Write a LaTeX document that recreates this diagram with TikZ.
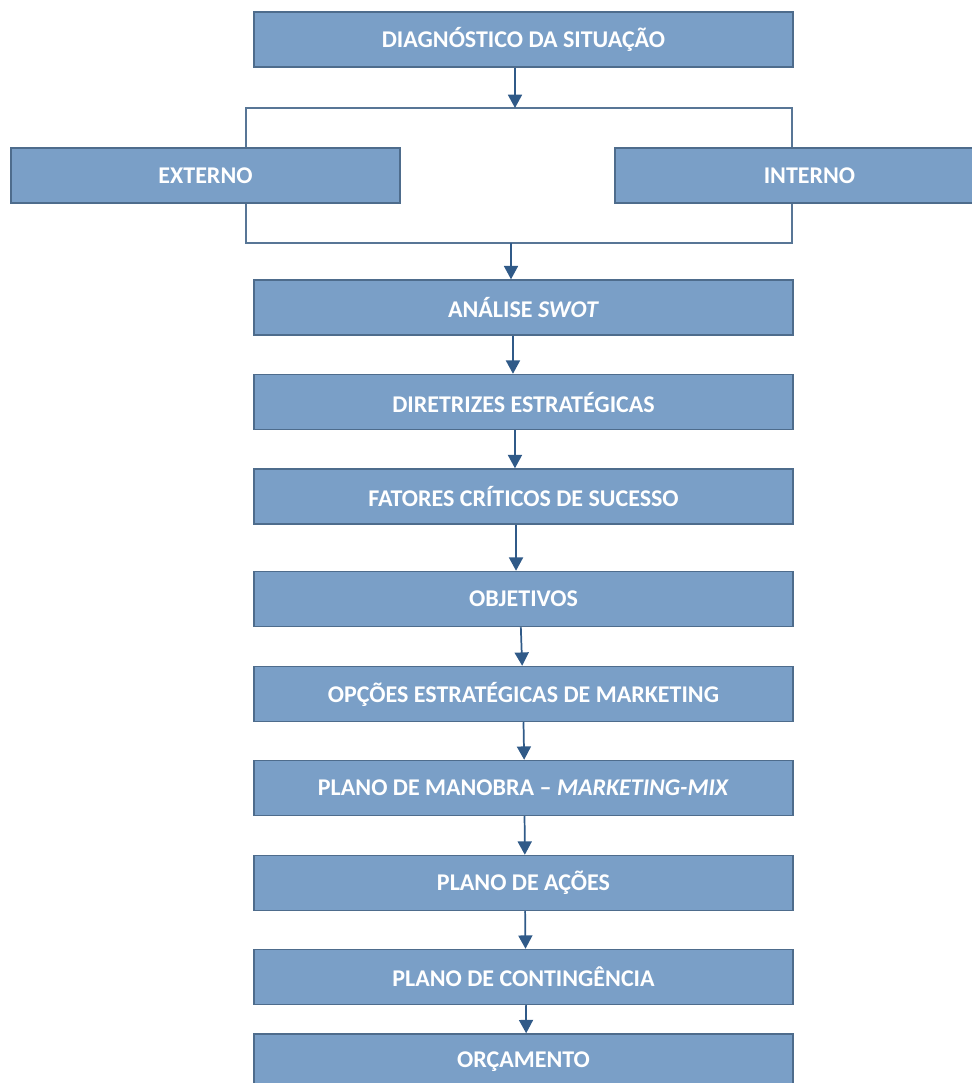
\documentclass[tikz,border=0pt]{standalone}
\usepackage{fontspec}
\setmainfont{Carlito}
\usetikzlibrary{arrows.meta}
\definecolor{boxfill}{RGB}{122,159,199}
\definecolor{boxline}{RGB}{78,108,140}
\definecolor{arrcol}{RGB}{48,90,136}
\definecolor{brcol}{RGB}{88,118,150}
\tikzset{
  flowbox/.style={draw=boxline, line width=1.1pt, fill=boxfill, text=white,
    font=\bfseries\fontsize{18}{21}\selectfont, minimum width=404.25pt,
    minimum height=41.25pt, inner sep=0pt},
  sidebox/.style={flowbox, minimum width=291.75pt},
  arr/.style={draw=arrcol, line width=1.3pt, -{Triangle[width=10.5pt,length=10pt]}},
  bracket/.style={draw=brcol, line width=1.1pt}
}
\begin{document}
\begin{tikzpicture}[x=0.75pt,y=-0.75pt]
\useasboundingbox (0,0) rectangle (972,1083);
% bracket
\coordinate (tl) at (246,108);
\coordinate (tr) at (792,108);
\coordinate (bl) at (246,243);
\coordinate (br) at (792,243);
\coordinate (bt) at (515,108);
\coordinate (bb) at (511,243);
\draw[bracket] (tl) -- (tr) -- (br) -- (bl) -- cycle;
% boxes
\node[flowbox] (diag) at (523.5,39.5) {DIAGNÓSTICO DA SITUAÇÃO};
\node[sidebox] (ext) at (205.5,175.5) {EXTERNO};
\node[sidebox] (int) at (809.5,175.5) {INTERNO};
\node[flowbox] (ana) at (523.5,307.5) {ANÁLISE \textit{SWOT}};
\node[flowbox] (dir) at (523.5,402) {DIRETRIZES ESTRATÉGICAS};
\node[flowbox] (fat) at (523.5,496.5) {FATORES CRÍTICOS DE SUCESSO};
\node[flowbox] (obj) at (523.5,599) {OBJETIVOS};
\node[flowbox] (opc) at (523.5,694) {OPÇÕES ESTRATÉGICAS DE MARKETING};
\node[flowbox] (man) at (523.5,788) {PLANO DE MANOBRA -- \textit{MARKETING-MIX}};
\node[flowbox] (aco) at (523.5,883) {PLANO DE AÇÕES};
\node[flowbox] (con) at (523.5,977) {PLANO DE CONTINGÊNCIA};
\node[flowbox] (orc) at (523.5,1061.5) {ORÇAMENTO};
% arrows
\draw[arr] (diag.south -| bt) -- (bt);
\draw[arr] (bb) -- (ana.north -| bb);
\draw[arr] ([xshift=-7.9pt]ana.south) -- ([xshift=-7.9pt]dir.north);
\draw[arr] ([xshift=-6.4pt]dir.south) -- ([xshift=-6.4pt]fat.north);
\draw[arr] ([xshift=-5.6pt]fat.south) -- ([xshift=-5.6pt]obj.north);
\draw[arr] ([xshift=-2pt]obj.south) -- ([xshift=-1pt]opc.north);
\draw[arr] ([xshift=0pt]opc.south) -- ([xshift=0.5pt]man.north);
\draw[arr] ([xshift=0.8pt]man.south) -- ([xshift=1pt]aco.north);
\draw[arr] ([xshift=1.2pt]aco.south) -- ([xshift=1.5pt]con.north);
\draw[arr] ([xshift=1.8pt]con.south) -- ([xshift=2pt]orc.north);
\end{tikzpicture}
\end{document}
